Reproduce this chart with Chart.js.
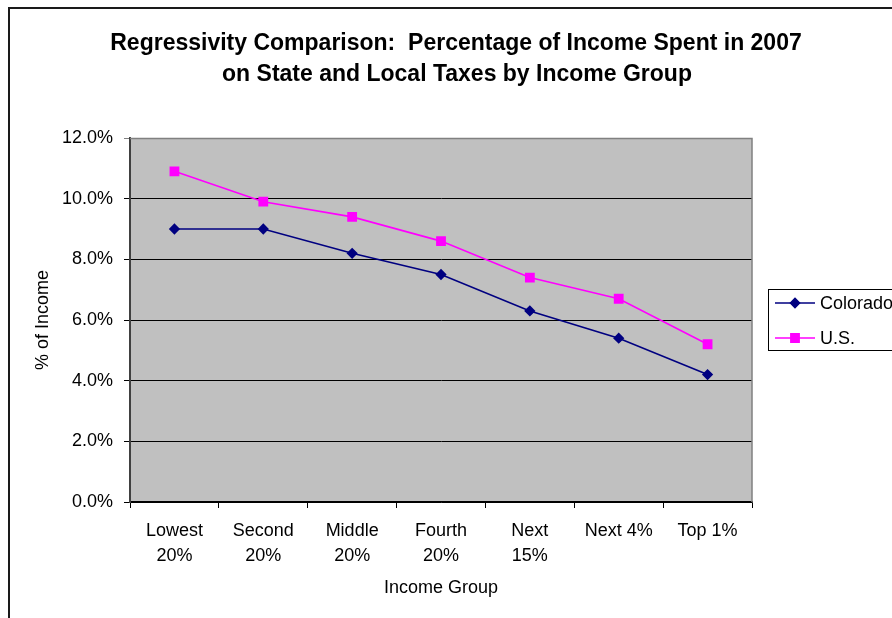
<!DOCTYPE html>
<html>
<head>
<meta charset="utf-8">
<script src="https://cdn.jsdelivr.net/npm/chart.js@4"></script>
<style>
  html, body { margin: 0; padding: 0; background: #fff; }
  #wrap { width: 892px; height: 618px; }
</style>
</head>
<body>
<div id="wrap"><canvas id="myChart" width="892" height="618"></canvas></div>
<script>
var groups = [["Lowest", "20%"], ["Second", "20%"], ["Middle", "20%"], ["Fourth", "20%"], ["Next", "15%"], "Next 4%", "Top 1%"];
var colorado = [9.0, 9.0, 8.2, 7.5, 6.3, 5.4, 4.2];
var usa = [10.9, 9.9, 9.4, 8.6, 7.4, 6.7, 5.2];
var yTicks = [0, 2, 4, 6, 8, 10, 12];

var FONT = "'Liberation Sans', Arial, sans-serif";
var SIZE = 18;

// frame, grey plot background, title and legend box
var decor = {
    id: "decor",
    beforeDraw: function(chart) {
        var ctx = chart.ctx, a = chart.chartArea;
        ctx.save();
        ctx.fillStyle = "#fff";
        ctx.fillRect(0, 0, chart.width, chart.height);
        ctx.strokeStyle = "#1a1a1a";
        ctx.lineWidth = 2;
        ctx.strokeRect(9, 8, 1000, 1000);
        ctx.fillStyle = "#c0c0c0";
        ctx.fillRect(a.left, a.top, a.right - a.left, a.bottom - a.top);
        ctx.restore();
    },
    afterDatasetsDraw: function(chart) {
        var ctx = chart.ctx, a = chart.chartArea;
        ctx.save();
        // plot border (top / right)
        ctx.strokeStyle = "#808080";
        ctx.lineWidth = 1.5;
        ctx.beginPath();
        ctx.moveTo(a.left, a.top + 0.5);
        ctx.lineTo(a.right, a.top + 0.5);
        ctx.lineTo(a.right, a.bottom);
        ctx.stroke();

        // title
        ctx.fillStyle = "#000";
        ctx.textAlign = "center";
        ctx.textBaseline = "alphabetic";
        ctx.font = "bold 23px " + FONT;
        ctx.fillText("Regressivity Comparison:  Percentage of Income Spent in 2007", 456, 49.5);
        ctx.fillText("on State and Local Taxes by Income Group", 457, 80.5);

        // legend
        ctx.strokeStyle = "#000";
        ctx.lineWidth = 1;
        ctx.strokeRect(768.5, 289.5, 200, 61);
        var rows = [[303, chart.data.datasets[0]], [338, chart.data.datasets[1]]];
        ctx.textAlign = "left";
        ctx.textBaseline = "middle";
        ctx.font = SIZE + "px " + FONT;
        rows.forEach(function(r) {
            var y = r[0], ds = r[1];
            ctx.strokeStyle = ds.borderColor;
            ctx.lineWidth = ds.borderWidth;
            ctx.beginPath();
            ctx.moveTo(775, y);
            ctx.lineTo(815, y);
            ctx.stroke();
            ctx.fillStyle = ds.pointBackgroundColor;
            Chart.helpers.drawPoint(ctx, {pointStyle: ds.pointStyle, radius: ds.pointRadius, borderWidth: 1}, 795, y);
            ctx.fill();
            ctx.fillStyle = "#000";
            ctx.fillText(ds.label, 820, y + 1);
        });
        ctx.restore();
    }
};

new Chart("myChart", {
    type: "line",
    data: {
        labels: groups,
        datasets: [
            {label: "Colorado", data: colorado, borderColor: "#000080", backgroundColor: "#000080",
             pointBackgroundColor: "#000080", pointBorderColor: "#000080", borderWidth: 1.6,
             pointStyle: "rectRot", pointRadius: 4.5, pointHoverRadius: 4.5, tension: 0},
            {label: "U.S.", data: usa, borderColor: "#ff00ff", backgroundColor: "#ff00ff",
             pointBackgroundColor: "#ff00ff", pointBorderColor: "#ff00ff", borderWidth: 1.6,
             pointStyle: "rect", pointRadius: 5.8, pointHoverRadius: 5.8, tension: 0}
        ]
    },
    options: {
        responsive: false,
        animation: false,
        events: [],
        layout: {padding: {left: 20, right: 140, top: 138, bottom: 0}},
        plugins: {legend: {display: false}, title: {display: false}, tooltip: {enabled: false}},
        scales: {
            x: {
                offset: true,
                afterFit: function(s) { s.height = 116; },
                grid: {offset: true, drawOnChartArea: false, drawTicks: true, tickLength: 6, color: "#000"},
                border: {color: "#000", width: 1.5},
                ticks: {color: "#000", padding: 10.5, maxRotation: 0, autoSkip: false,
                        font: {family: FONT, size: SIZE, lineHeight: 1.39}},
                title: {display: true, text: "Income Group", color: "#000",
                        font: {family: FONT, size: SIZE}, padding: {bottom: 19}}
            },
            y: {
                min: 0, max: 12,
                afterFit: function(s) { s.width = 110; },
                afterBuildTicks: function(s) { s.ticks = yTicks.map(function(v) { return {value: v}; }); },
                grid: {drawTicks: true, tickLength: 6, lineWidth: 1,
                       color: function(c) { return c.tick && c.tick.value === 12 ? "#808080" : "#000"; }},
                border: {color: "#404040", width: 2},
                ticks: {color: "#000", padding: 11,
                        font: {family: FONT, size: SIZE},
                        callback: function(v) { return v.toFixed(1) + "%"; }},
                title: {display: true, text: "% of Income", color: "#000",
                        font: {family: FONT, size: SIZE}, padding: {top: 12}}
            }
        }
    },
    plugins: [decor]
});
</script>
</body>
</html>
